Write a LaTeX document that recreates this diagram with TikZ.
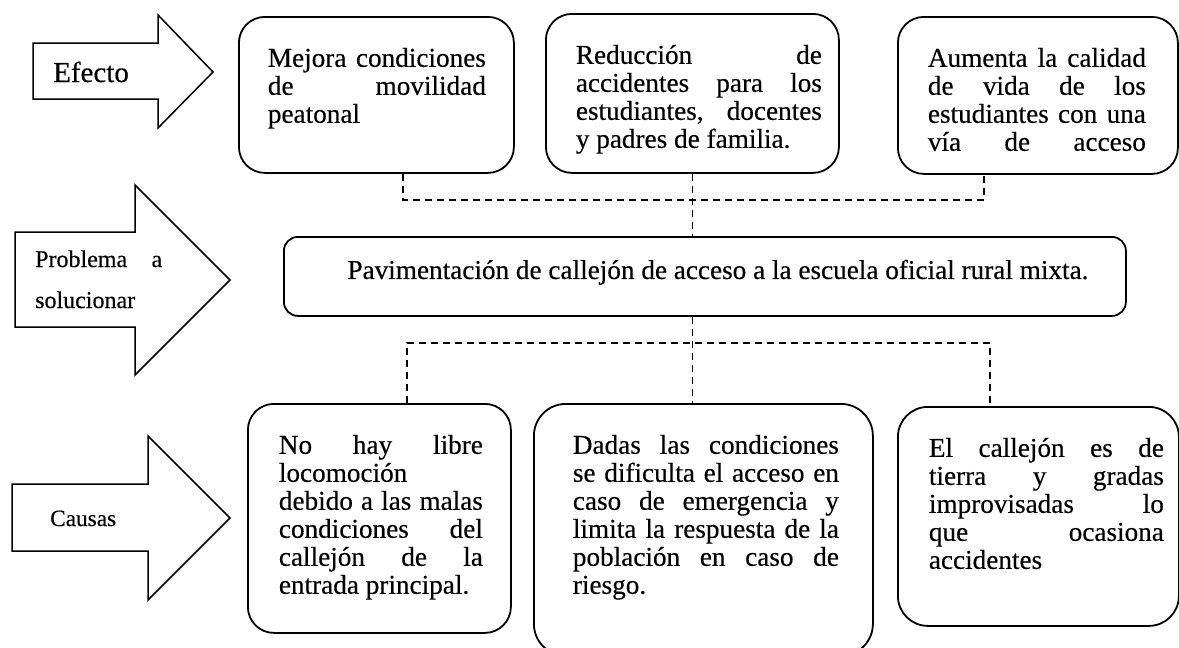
\documentclass[tikz,border=0pt]{standalone}
\usepackage{fontspec}
\setmainfont{Liberation Serif}[FakeBold=0.4]
\usetikzlibrary{calc}
\tikzset{
  caja/.style={draw, line width=1.8pt, rounded corners=26pt, anchor=north west, inner sep=0pt, font=\fontsize{27.2}{28}\selectfont},
  flecha/.style={draw, line width=1.5pt, line join=miter},
  guion/.style={line width=1.6pt, dash pattern=on 7pt off 5pt},
  rotulo/.style={anchor=base west, inner sep=0pt}
}
\newcommand{\lin}[1]{\makebox[\linewidth][s]{#1}}
\newcommand{\cuadro}[5]{\parbox[c][#2][t]{#1}{\vspace*{31pt}\hspace*{#3}\parbox[t]{#4}{#5}}}
\begin{document}
\begin{tikzpicture}[x=1pt,y=-1pt]
\useasboundingbox (0,0) rectangle (1179,648);
% flechas de la izquierda
\draw[flecha] (33,43) -- (158,43) -- (158,15) -- (213,72) -- (158,128) -- (158,99) -- (33,99) -- cycle;
\draw[flecha] (15,232) -- (135,232) -- (135,185) -- (230,280) -- (135,375) -- (135,327) -- (15,327) -- cycle;
\draw[flecha] (12,484) -- (148,484) -- (148,436) -- (230,518) -- (148,600) -- (148,551) -- (12,551) -- cycle;
\node[rotulo, font=\fontsize{29}{30}\selectfont] (efecto) at (53,82) {Efecto};
\node[rotulo, font=\fontsize{24}{41}\selectfont] (problema) at (35,267) {\parbox[t]{127pt}{\lin{Problema a}\\solucionar}};
\node[rotulo, font=\fontsize{23.3}{24}\selectfont] (causas) at (50,526) {Causas};
% efectos
\node[caja] (ef1) at (238,16) {\cuadro{275pt}{156pt}{29pt}{218pt}{\lin{Mejora condiciones}\\\lin{de movilidad}\\peatonal}};
\node[caja] (ef2) at (545,13) {\cuadro{293pt}{159pt}{30pt}{246pt}{\lin{Reducción de}\\\lin{accidentes para los}\\\lin{estudiantes, docentes}\\y padres de familia.}};
\node[caja] (ef3) at (897,16) {\cuadro{280pt}{157pt}{30pt}{218pt}{\lin{Aumenta la calidad}\\\lin{de vida de los}\\\lin{estudiantes con una}\\\lin{vía de acceso}}};
% problema
\node[caja, rounded corners=14pt, minimum width=842pt, minimum height=79pt, text depth=14pt] (prob) at (283,236) {\hspace*{26pt}Pavimentación de callejón de acceso a la escuela oficial rural mixta.};
% causas
\node[caja] (ca1) at (247,403) {\cuadro{263pt}{229pt}{31pt}{204pt}{\lin{No hay libre}\\locomoción\\\lin{debido a las malas}\\\lin{condiciones del}\\\lin{callejón de la}\\entrada principal.}};
\node[caja, rounded corners=32pt] (ca2) at (533,403) {\cuadro{339pt}{252pt}{39pt}{266pt}{\lin{Dadas las condiciones}\\\lin{se dificulta el acceso en}\\\lin{caso de emergencia y}\\\lin{limita la respuesta de la}\\\lin{población en caso de}\\riesgo.}};
\node[caja, rounded corners=30pt] (ca3) at (897,406) {\cuadro{281pt}{219pt}{31pt}{235pt}{\lin{El callejón es de}\\\lin{tierra y gradas}\\\lin{improvisadas lo}\\\lin{que ocasiona}\\accidentes}};
% conectores
\coordinate (codoA) at (403,200);
\coordinate (codoB) at (984,200);
\coordinate (codoC) at (407,343);
\coordinate (codoD) at (990,343);
\draw[guion] (ef1.south -| codoA) -- (codoA) -- (codoB) -- (ef3.south -| codoB);
\draw[guion] (ef2.south) -- (prob.north -| ef2.south);
\draw[guion] (prob.south -| ef2.south) -- (ca2.north -| ef2.south);
\draw[guion] (ca1.north -| codoC) -- (codoC) -- (codoD) -- (ca3.north -| codoD);
\end{tikzpicture}
\end{document}
